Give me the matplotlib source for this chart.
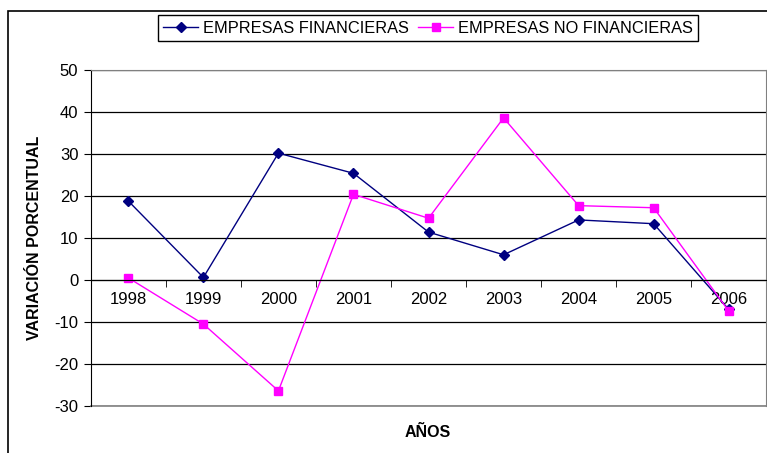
import numpy as np
import matplotlib.pyplot as plt
from matplotlib.patches import Rectangle

plt.rcParams['font.family'] = ['Liberation Sans', 'DejaVu Sans']
plt.rcParams['axes.unicode_minus'] = False

years = ['1998', '1999', '2000', '2001', '2002', '2003', '2004', '2005', '2006']
financieras = [18.8, 0.6, 30.2, 25.4, 11.4, 6.0, 14.3, 13.4, -7.0]
no_financieras = [0.5, -10.5, -26.4, 20.4, 14.7, 38.6, 17.7, 17.2, -7.4]

fig = plt.figure(figsize=(7.67, 4.53), dpi=100)
ax = fig.add_axes([0.1184, 0.1038, 0.8806, 0.7417])

x = np.arange(len(years))
ax.plot(x, financieras, color='#000080', lw=1.0, marker='D', ms=5,
        label='EMPRESAS FINANCIERAS')
ax.plot(x, no_financieras, color='#FF00FF', lw=1.0, marker='s', ms=6,
        label='EMPRESAS NO FINANCIERAS')

ax.set_xlim(-0.5, len(years) - 0.5)
ax.set_ylim(-30, 50)
ax.set_yticks(np.arange(-30, 51, 10))
ax.yaxis.grid(True, color='black', lw=0.9)
ax.set_axisbelow(True)

# category axis crosses at 0
ax.spines['bottom'].set_position(('data', 0))
ax.spines['bottom'].set_color('black')
ax.set_xticks(x)
ax.set_xticklabels(years)
ax.set_xticks(np.arange(-0.5, len(years), 1), minor=True)
ax.tick_params(axis='x', which='major', length=0, pad=9, labelsize=12)
ax.tick_params(axis='x', which='minor', length=5, direction='out', color='black')
ax.tick_params(axis='y', length=5, direction='out', labelsize=12, pad=4)
ax.spines['left'].set_color('black')
ax.spines['top'].set_color('#808080')
ax.spines['right'].set_color('#808080')

# bottom border of the plot area
ax.axhline(-30, color='#808080', lw=1.2, clip_on=False)

fig.text(35 / 767, 0.4746, 'VARIACIÓN PORCENTUAL', rotation=90, ha='center', va='center',
         fontsize=11.5, fontweight='bold')
fig.text(0.558, 0.046, 'AÑOS', ha='center', va='center', fontsize=11.5, fontweight='bold')

leg = fig.legend(loc='center', bbox_to_anchor=(0.558, 0.938), ncol=2, fontsize=11.8,
                 frameon=True, fancybox=False, edgecolor='black', framealpha=1,
                 handlelength=2.1, handletextpad=0.3, columnspacing=0.6,
                 borderpad=0.35, borderaxespad=0)
leg.get_frame().set_linewidth(1.0)

# outer chart border
fig.patches.append(Rectangle((8 / 767, -0.1), 1.2, 1 - 11 / 453 + 0.1,
                             transform=fig.transFigure, fill=False,
                             edgecolor='black', lw=1.2))

plt.savefig('out.png', dpi=100)
